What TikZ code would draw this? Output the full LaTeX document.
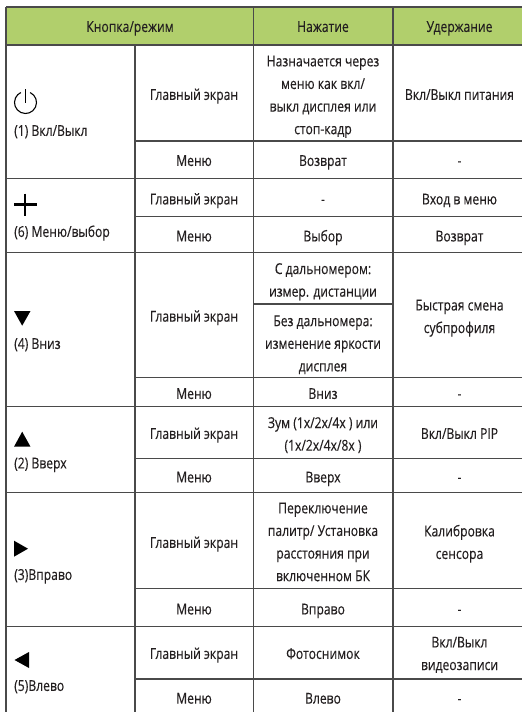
\documentclass[tikz,border=0pt]{standalone}
\usepackage{fontspec}
\setmainfont[FakeStretch=0.81,FakeBold=0.2]{Open Sans}
\definecolor{hdr}{HTML}{B1CF6C}
\definecolor{rule}{HTML}{4A4A4A}
\definecolor{ink}{HTML}{231F20}
\tikzset{
  cell/.style={text=ink,font=\fontsize{15}{22.6}\selectfont,align=center,inner sep=0pt,anchor=center,yshift=-0.4pt,
    execute at begin node=\strut,execute at end node=\strut},
  multi/.style={cell,yshift=-2.4pt},
  side/.style={cell,anchor=west,align=left},
  grid/.style={draw=rule,line width=1.1pt},
  icon/.style={fill=black,draw=none}
}
\begin{document}
\begin{tikzpicture}[x=1pt,y=-1pt]
\useasboundingbox (0,0) rectangle (522,712);
\fill[white] (0,0) rectangle (522,712);
\fill[hdr] (6,7) rectangle (522,45);
% full-width rules
\foreach \y in {7,45,178.5,252.7,406.7,492.7,626.7}
  \draw[grid] (6,\y) -- (522,\y);
% rules from column 2 onward
\foreach \y in {141,216.5,377.7,458.7,588.3,679}
  \draw[grid] (135,\y) -- (522,\y);
\draw[grid] (253.5,304) -- (393,304);
% vertical rules
\draw[grid] (6,7) -- (6,712);
\draw[grid] (135,45) -- (135,712);
\draw[grid] (253.6,7) -- (253.6,712);
\draw[grid] (393,7) -- (393,712);
% header
\node[cell] (h1) at (130,27) {Кнопка/режим};
\node[cell] (h2) at (323,27) {Нажатие};
\node[cell] (h3) at (459.5,27) {Удержание};
% icons
\draw[line width=1.1pt,black] (30.15,92.53) arc[start angle=-65,delta angle=310,radius=11];
\draw[line width=1.1pt,black] (25.5,89) -- (25.5,103);
\draw[line width=2.1pt,black] (14,204.5) -- (36.5,204.5) (25.2,193.5) -- (25.2,215.5);
\fill[icon] (14,311) -- (30.5,311) -- (22.2,325.7) -- cycle;
\fill[icon] (14,446.7) -- (30.5,446.7) -- (22.2,431.7) -- cycle;
\fill[icon] (14,540.7) -- (28,548.7) -- (14,556.7) -- cycle;
\fill[icon] (29,652) -- (14.5,660) -- (29,668) -- cycle;
% first column
\node[side] (a1) at (14,131) {(1) Вкл/Выкл};
\node[side] (a2) at (14,232) {(6) Меню/выбор};
\node[side] (a3) at (14,344) {(4) Вниз};
\node[side] (a4) at (14,463.5) {(2) Вверх};
\node[side] (a5) at (14,575) {(3)Вправо};
\node[side] (a6) at (14,686) {(5)Влево};
% second column
\node[cell] (b1) at (194,95) {Главный экран};
\node[cell] (b2) at (194,161) {Меню};
\node[cell] (b3) at (194,199.5) {Главный экран};
\node[cell] (b4) at (194,236.5) {Меню};
\node[cell] (b5) at (194,316.7) {Главный экран};
\node[cell] (b6) at (194,394) {Меню};
\node[cell] (b7) at (194,434) {Главный экран};
\node[cell] (b8) at (194,477.5) {Меню};
\node[cell] (b9) at (194,543) {Главный экран};
\node[cell] (b10) at (194,609.5) {Меню};
\node[cell] (b11) at (194,654) {Главный экран};
\node[cell] (b12) at (194,698.7) {Меню};
% third column
\node[multi] (c1) at (323,95.5) {Назначается через\\меню как вкл/\\выкл дисплея или\\стоп-кадр};
\node[cell] (c2) at (323,161) {Возврат};
\node[cell] (c3) at (323,199.5) {-};
\node[cell] (c4) at (323,236.5) {Выбор};
\node[multi] (c5) at (323,280.5) {С дальномером:\\измер. дистанции};
\node[multi] (c6) at (323,344) {Без дальномера:\\изменение яркости\\дисплея};
\node[cell] (c7) at (323,394) {Вниз};
\node[multi] (c8) at (323,434.5) {Зум (1х/2х/4х ) или\\(1х/2х/4х/8х )};
\node[cell] (c9) at (323,477.5) {Вверх};
\node[multi] (c10) at (323,542.5) {Переключение\\палитр/ Установка\\расстояния при\\включенном БК};
\node[cell] (c11) at (323,609.5) {Вправо};
\node[cell] (c12) at (323,654) {Фотоснимок};
\node[cell] (c13) at (323,698.7) {Влево};
% fourth column
\node[cell] (d1) at (459.5,95) {Вкл/Выкл питания};
\node[cell] (d2) at (459.5,161) {-};
\node[cell] (d3) at (459.5,199.5) {Вход в меню};
\node[cell] (d4) at (459.5,236.5) {Возврат};
\node[multi] (d5) at (459.5,317) {Быстрая смена\\субпрофиля};
\node[cell] (d6) at (459.5,394) {-};
\node[cell] (d7) at (459.5,434) {Вкл/Выкл PIP};
\node[cell] (d8) at (459.5,477.5) {-};
\node[multi] (d9) at (459.5,542.5) {Калибровка\\сенсора};
\node[cell] (d10) at (459.5,609.5) {-};
\node[multi] (d11) at (459.5,654) {Вкл/Выкл\\видеозаписи};
\node[cell] (d12) at (459.5,698.7) {-};
\end{tikzpicture}
\end{document}
